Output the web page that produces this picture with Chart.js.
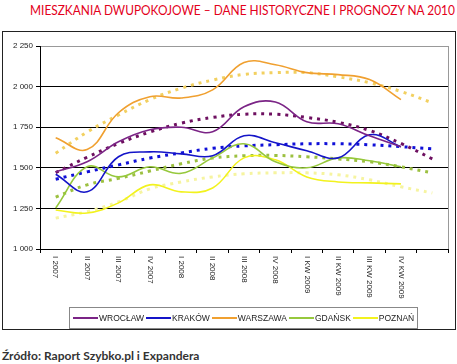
<!DOCTYPE html>
<html>
<head>
<meta charset="utf-8">
<script src="https://cdn.jsdelivr.net/npm/chart.js@4"></script>
<style>
body{margin:0;width:457px;height:364px;background:#fff;position:relative;overflow:hidden;font-family:"Liberation Sans",Arial,sans-serif;}
#title{position:absolute;left:30px;top:1px;font-family:Lato,sans-serif;font-size:14px;color:#e3001b;white-space:nowrap;transform-origin:0 0;}
#box{position:absolute;left:2px;top:31px;width:452px;height:297px;border:1px solid #222;}
#chart{position:absolute;left:0;top:0;}
#legend{position:absolute;left:66px;top:275px;width:349px;height:22px;border:1px solid #888;display:flex;align-items:center;font-size:8.5px;color:#222;padding-left:3px;box-sizing:border-box;}
#legend .item{display:flex;align-items:center;margin-right:2px;}
#legend .ln{display:inline-block;width:25px;height:1.5px;margin-right:1px;}
#source{position:absolute;left:2px;top:348px;font-family:Lato,sans-serif;font-weight:bold;font-size:12px;color:#333;white-space:nowrap;}
</style>
</head>
<body>
<div id="title">MIESZKANIA DWUPOKOJOWE – DANE HISTORYCZNE I PROGNOZY NA 2010</div>
<div id="box">
<canvas id="chart" width="452" height="297"></canvas>
<div id="legend"></div>
</div>
<div id="source">Źródło: Raport Szybko.pl i Expandera</div>
<script>
let categories = ['I 2007','II 2007','III 2007','IV 2007','I 2008','II 2008','III 2008','IV 2008','I KW 2009','II KW 2009','III KW 2009','IV KW 2009',''];

let cities = ['WROCŁAW','KRAKÓW','WARSZAWA','GDAŃSK','POZNAŃ'];

let wroclaw = [1475,1537,1660,1734,1750,1722,1876,1905,1783,1771,1697,1630];
let krakow = [1460,1352,1568,1598,1586,1574,1697,1654,1605,1561,1703,1630];
let warszawa = [1685,1612,1839,1938,1930,1980,2148,2135,2086,2074,2043,1920];
let gdansk = [1253,1506,1444,1506,1466,1561,1648,1537,1500,1561,1543,1506];
let poznan = [1240,1222,1284,1395,1352,1376,1561,1549,1444,1413,1407,1401];

// trend lines (prognoza) go one quarter further
let wroclawTrend = [1470,1565,1650,1720,1775,1810,1830,1830,1810,1780,1730,1650,1555];
let krakowTrend = [1430,1475,1518,1560,1592,1620,1635,1642,1648,1648,1642,1630,1617];
let warszawaTrend = [1590,1720,1825,1920,1990,2040,2075,2086,2086,2060,2024,1970,1900];
let gdanskTrend = [1320,1395,1435,1480,1525,1560,1574,1576,1568,1555,1537,1506,1469];
let poznanTrend = [1190,1230,1290,1370,1413,1444,1463,1469,1469,1457,1426,1383,1345];

let yTicks = [1000,1250,1500,1750,2000,2250];

let colors = ['#7b2486','#1414c8','#f0a030','#96c83c','#f2f21e'];
let trendColors = ['#6e1060','#1010d8','#f2d060','#9cc040','#f6f4a0'];

let series = [wroclaw,krakow,warszawa,gdansk,poznan];
let trends = [wroclawTrend,krakowTrend,warszawaTrend,gdanskTrend,poznanTrend];

let datasets = [];
for(let i=0;i<series.length;i++){
datasets.push({
label: cities[i],
data: series[i],
borderColor: colors[i],
borderWidth: 1.6,
pointRadius: 0,
tension: 0.4,
fill: false,
order: 1
});
}
for(let i=0;i<trends.length;i++){
datasets.push({
label: cities[i] + ' trend',
data: trends[i],
borderColor: trendColors[i],
borderWidth: 3,
borderDash: [3,5],
borderCapStyle: 'butt',
pointRadius: 0,
tension: 0.4,
fill: false,
order: 2
});
}

// rotated category labels, read top to bottom
const xLabels = {
id: 'xLabels',
afterDraw(chart){
const ctx = chart.ctx;
const sc = chart.scales.x;
ctx.save();
ctx.font = '8px "Liberation Sans", Arial, sans-serif';
ctx.fillStyle = '#222';
ctx.textAlign = 'left';
ctx.textBaseline = 'middle';
categories.forEach(function(c,i){
if(!c) return;
const x = sc.getPixelForValue(i);
ctx.save();
ctx.translate(x, sc.top + 7);
ctx.rotate(Math.PI/2);
ctx.fillText(c, 0, 0);
ctx.restore();
});
// plot area right border
const a = chart.chartArea;
ctx.strokeStyle = '#999';
ctx.lineWidth = 1;
ctx.beginPath();
ctx.moveTo(Math.round(a.right)+0.5, a.top);
ctx.lineTo(Math.round(a.right)+0.5, a.bottom);
ctx.stroke();
ctx.restore();
}
};

const chart = new Chart(document.getElementById('chart').getContext('2d'), {
type: 'line',
data: { labels: categories, datasets: datasets },
options: {
responsive: false,
animation: false,
devicePixelRatio: 1,
layout: { padding: { top: 14, right: 7, left: 0, bottom: 0 } },
plugins: { legend: { display: false }, tooltip: { enabled: false } },
scales: {
x: {
offset: true,
grid: { offset: true, drawOnChartArea: false, drawTicks: true, tickLength: 4, tickColor: '#000' },
border: { color: '#000', width: 1 },
ticks: { display: false },
afterFit: function(s){ s.height = 80; }
},
y: {
min: yTicks[0],
max: yTicks[yTicks.length-1],
afterBuildTicks: function(s){ s.ticks = yTicks.map(function(v){ return {value: v}; }); },
grid: {
color: function(c){ return c.tick && c.tick.value === 2250 ? '#999' : '#000'; },
lineWidth: 1,
tickLength: 4,
tickColor: '#000'
},
border: { color: '#000', width: 1 },
ticks: {
color: '#222',
padding: 3,
font: { family: '"Liberation Sans", Arial, sans-serif', size: 8 },
callback: function(v){ return String(v).replace(/\B(?=(\d{3})+(?!\d))/g, ' '); }
},
afterFit: function(s){ s.width = 37; }
}
}
},
plugins: [xLabels]
});

// legend
let legend = document.getElementById('legend');
cities.forEach(function(c,i){
let item = document.createElement('span');
item.className = 'item';
item.innerHTML = '<span class="ln" style="background:' + colors[i] + '"></span>' + c;
legend.appendChild(item);
});

// squeeze title into the width it has in the picture
let title = document.getElementById('title');
title.style.transform = 'scaleX(' + (425 / title.scrollWidth) + ')';
</script>
</body>
</html>
